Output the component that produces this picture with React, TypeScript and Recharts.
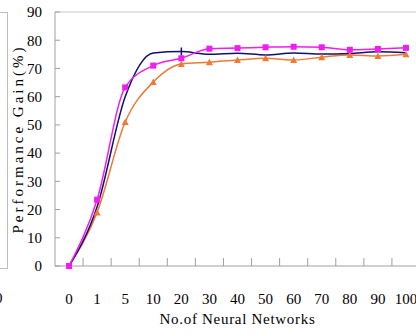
import React from "react";
import { LineChart, Line, XAxis, YAxis, ReferenceLine } from "recharts";

const categories = ["0", "1", "5", "10", "20", "30", "40", "50", "60", "70", "80", "90", "100"];
const navySeries = [0, 21, 60, 75.5, 76, 75, 75.4, 74.8, 75.5, 75.1, 75.3, 75.9, 75.6];
const magentaSeries = [0, 23.5, 63.3, 71, 73.6, 77, 77.2, 77.5, 77.7, 77.5, 76.6, 76.9, 77.3];
const orangeSeries = [0, 19, 51, 65.2, 71.6, 72.2, 73, 73.6, 73, 74, 74.8, 74.4, 75];
const yTicks = [0, 10, 20, 30, 40, 50, 60, 70, 80, 90];

const data = categories.map((x, i) => ({
  x,
  navy: navySeries[i],
  magenta: magentaSeries[i],
  orange: orangeSeries[i],
}));

const W = 430;
const H = 336;
const PLOT_LEFT = 55;
const RIGHT = 10;
const BAND = (W - PLOT_LEFT - RIGHT) / categories.length;
const FONT = "'Liberation Serif', 'DejaVu Serif', serif";
const AXIS = "#a0a0a0";

const NAVY = "#10106e";
const MAGENTA = "#f01cf0";
const ORANGE = "#ef7a35";

// x ticks sit between categories, like the original
const XTick = (props: any) => {
  const { x, y, payload, index } = props;
  const axisY = y - 26;
  return (
    <g>
      {index < categories.length - 1 && (
        <line x1={x + BAND / 2} x2={x + BAND / 2} y1={axisY} y2={axisY - 8} stroke={AXIS} />
      )}
      <text x={x} y={y} dy={12} textAnchor="middle" fontFamily={FONT} fontSize={15} fill="#000">
        {payload.value}
      </text>
    </g>
  );
};

const SquareDot = (props: any) => {
  const { cx, cy, index } = props;
  return <rect key={`sq-${index}`} x={cx - 3} y={cy - 3} width={6} height={6} fill={MAGENTA} />;
};

const TriangleDot = (props: any) => {
  const { cx, cy, index } = props;
  return (
    <polygon
      key={`tri-${index}`}
      points={`${cx},${cy - 3.5} ${cx + 3.5},${cy + 3} ${cx - 3.5},${cy + 3}`}
      fill={ORANGE}
    />
  );
};

const PlusDot = (props: any) => {
  const { cx, cy, index, payload } = props;
  if (payload.x !== "20") return <g key={`pl-${index}`} />;
  return <line key={`pl-${index}`} x1={cx} x2={cx} y1={cy - 4} y2={cy + 4} stroke={NAVY} strokeWidth={1.5} />;
};

export default function App() {
  return (
    <div
      style={{
        position: "fixed",
        left: 0,
        top: 0,
        width: 416,
        height: 336,
        overflow: "hidden",
        background: "#fff",
      }}
    >
      {/* edge of the neighbouring panel */}
      <div
        style={{
          position: "absolute",
          left: -20,
          top: 12,
          width: 27,
          height: 255,
          borderTop: "1px solid #c0c0c0",
          borderRight: "1px solid #c0c0c0",
          borderBottom: "1px solid #c0c0c0",
        }}
      />
      <div
        style={{
          position: "absolute",
          left: -20,
          top: 291,
          fontFamily: FONT,
          fontSize: 15,
          lineHeight: 1,
          color: "#000",
        }}
      >
        100
      </div>
      <div style={{ position: "absolute", left: 0, top: 0 }}>
        <LineChart width={W} height={H} data={data} margin={{ top: 12, right: RIGHT, bottom: 30, left: 0 }}>
          <ReferenceLine y={90} stroke="#c8c8c8" />
          <XAxis
            dataKey="x"
            type="category"
            height={40}
            stroke={AXIS}
            padding={{ left: BAND / 2, right: BAND / 2 }}
            tickLine={false}
            tickSize={0}
            tickMargin={26}
            interval={0}
            tick={<XTick />}
            label={{
              content: () => (
                <text
                  x={PLOT_LEFT + (W - PLOT_LEFT - RIGHT) / 2}
                  y={324}
                  textAnchor="middle"
                  fontFamily={FONT}
                  fontSize={15}
                  letterSpacing={0.7}
                  fill="#000"
                >
                  No.of Neural Networks
                </text>
              ),
            }}
          />
          <YAxis
            width={PLOT_LEFT}
            domain={[0, 90]}
            ticks={yTicks}
            interval={0}
            stroke={AXIS}
            tickSize={-5}
            tickMargin={18}
            tick={{ fontFamily: FONT, fontSize: 15, fill: "#000" }}
            label={{
              content: () => (
                <text
                  x={18}
                  y={139}
                  transform="rotate(-90 18 139)"
                  textAnchor="middle"
                  dominantBaseline="central"
                  fontFamily={FONT}
                  fontSize={15}
                  letterSpacing={3}
                  fill="#000"
                >
                  Performance Gain(%)
                </text>
              ),
            }}
          />
          <Line
            type="monotone"
            dataKey="orange"
            stroke={ORANGE}
            strokeWidth={1.5}
            dot={TriangleDot}
            isAnimationActive={false}
          />
          <Line
            type="monotone"
            dataKey="navy"
            stroke={NAVY}
            strokeWidth={1.5}
            dot={PlusDot}
            isAnimationActive={false}
          />
          <Line
            type="monotone"
            dataKey="magenta"
            stroke={MAGENTA}
            strokeWidth={1.5}
            dot={SquareDot}
            isAnimationActive={false}
          />
        </LineChart>
      </div>
    </div>
  );
}
